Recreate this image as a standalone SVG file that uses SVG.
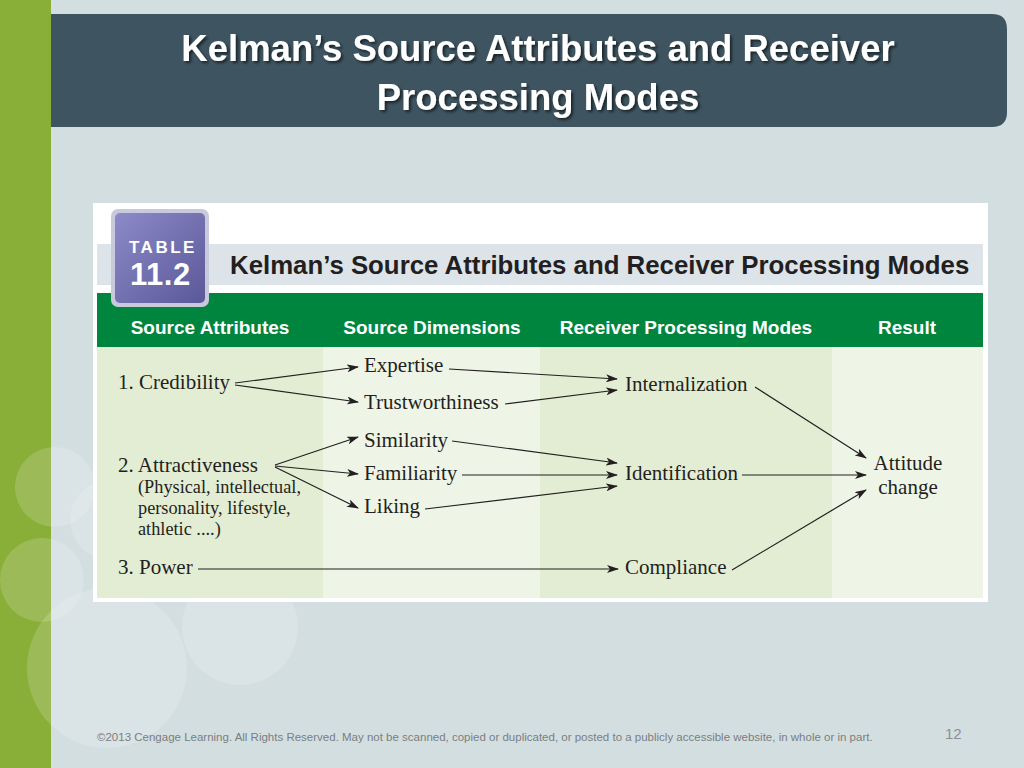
<svg xmlns="http://www.w3.org/2000/svg" width="1024" height="768" viewBox="0 0 1024 768">
<defs>
<style>
.title{font-family:"Liberation Sans",Arial,sans-serif;font-weight:bold;font-size:36.5px;fill:#ffffff;text-anchor:middle}
.hdr{font-family:"Liberation Sans",Arial,sans-serif;font-weight:bold;font-size:19px;fill:#ffffff;text-anchor:middle}
.tt{font-family:"Liberation Sans",Arial,sans-serif;font-weight:bold;font-size:25.8px;fill:#231f20}
.s{font-family:"Liberation Serif","Times New Roman",serif;font-size:21px;fill:#231f20}
.ss{font-family:"Liberation Serif","Times New Roman",serif;font-size:18.3px;fill:#231f20}
.conn line{stroke:#231f20;stroke-width:1.2;fill:none;marker-end:url(#ah)}
.foot{font-family:"Liberation Sans",Arial,sans-serif;font-size:11.5px;fill:#7a7f82}
</style>
<marker id="ah" viewBox="0 0 12 8" refX="11" refY="4" markerWidth="12" markerHeight="8" markerUnits="userSpaceOnUse" orient="auto">
<path d="M0,0 L12,4 L0,8 L3,4 z" fill="#231f20"/>
</marker>
<linearGradient id="pg" x1="0" y1="0" x2="1" y2="1">
<stop offset="0" stop-color="#8c8ac8"/>
<stop offset="1" stop-color="#5a5898"/>
</linearGradient>
<filter id="sh" x="-5%" y="-20%" width="110%" height="150%">
<feDropShadow dx="2" dy="2" stdDeviation="1.5" flood-color="#000" flood-opacity="0.6"/>
</filter>
</defs>

<!-- background -->
<rect x="0" y="0" width="1024" height="768" fill="#d3dee0"/>
<rect x="0" y="0" width="51" height="768" fill="#8aaf38"/>
<g fill="#ffffff" fill-opacity="0.16">
<circle cx="55" cy="487" r="40"/>
<circle cx="42" cy="580" r="42"/>
<circle cx="107" cy="668" r="80"/>
<circle cx="240" cy="627" r="58"/>
<circle cx="110" cy="520" r="40"/>
</g>

<!-- title bar -->
<g id="title">
<path d="M51,14 H992 Q1007,14 1007,29 V112 Q1007,127 992,127 H51 Z" fill="#3e5561"/>
<text class="title" x="538" y="61" filter="url(#sh)">Kelman’s Source Attributes and Receiver</text>
<text class="title" x="538" y="110" filter="url(#sh)">Processing Modes</text>
</g>

<!-- table frame -->
<g id="table">
<rect x="93" y="203" width="895" height="399" fill="#ffffff"/>
<rect x="97" y="244" width="886" height="41" fill="#dde4e9"/>
<rect x="97" y="293" width="886" height="54" fill="#00853f"/>
<rect x="97" y="347" width="226" height="251" fill="#e3edd3"/>
<rect x="323" y="347" width="217" height="251" fill="#eff5e6"/>
<rect x="540" y="347" width="292" height="251" fill="#e3edd3"/>
<rect x="832" y="347" width="151" height="251" fill="#eff5e6"/>
<text class="tt" x="230" y="274">Kelman’s Source Attributes and Receiver Processing Modes</text>
<text class="hdr" x="210" y="334">Source Attributes</text>
<text class="hdr" x="432" y="334">Source Dimensions</text>
<text class="hdr" x="686" y="334">Receiver Processing Modes</text>
<text class="hdr" x="907" y="334">Result</text>
</g>

<g id="badge">
<rect x="111" y="209" width="98" height="98" rx="7" fill="#c9c9dc"/>
<rect x="115" y="213" width="90" height="90" rx="5" fill="url(#pg)"/>
<text x="129" y="253" font-family="Liberation Sans,Arial,sans-serif" font-weight="bold" font-size="17" letter-spacing="2.5" fill="#ffffff">TABLE</text>
<text x="130" y="285" font-family="Liberation Sans,Arial,sans-serif" font-weight="bold" font-size="31" letter-spacing="0.5" fill="#ffffff">11.2</text>
</g>

<!-- nodes -->
<g id="credibility"><text class="s" x="118" y="389">1. Credibility</text></g>
<g id="expertise"><text class="s" x="364" y="372">Expertise</text></g>
<g id="trustworthiness"><text class="s" x="364" y="409">Trustworthiness</text></g>
<g id="internalization"><text class="s" x="625" y="391">Internalization</text></g>
<g id="attractiveness">
<text class="s" x="118" y="472">2. Attractiveness</text>
<text class="ss" x="138" y="493">(Physical, intellectual,</text>
<text class="ss" x="138" y="514">personality, lifestyle,</text>
<text class="ss" x="138" y="535">athletic ....)</text>
</g>
<g id="similarity"><text class="s" x="364" y="447">Similarity</text></g>
<g id="familiarity"><text class="s" x="364" y="480">Familiarity</text></g>
<g id="liking"><text class="s" x="364" y="513">Liking</text></g>
<g id="identification"><text class="s" x="625" y="480">Identification</text></g>
<g id="power"><text class="s" x="118" y="574">3. Power</text></g>
<g id="compliance"><text class="s" x="625" y="574">Compliance</text></g>
<g id="attitude">
<text class="s" x="908" y="470" text-anchor="middle">Attitude</text>
<text class="s" x="908" y="494" text-anchor="middle">change</text>
</g>

<!-- connectors -->
<g class="conn" id="connectors">
<line x1="235" y1="383" x2="358" y2="367"/>
<line x1="235" y1="385" x2="358" y2="402"/>
<line x1="449" y1="369" x2="617" y2="379"/>
<line x1="505" y1="404" x2="617" y2="390"/>
<line x1="275" y1="465" x2="358" y2="437"/>
<line x1="275" y1="466" x2="358" y2="474"/>
<line x1="275" y1="467" x2="358" y2="508"/>
<line x1="452" y1="441" x2="617" y2="463"/>
<line x1="462" y1="475" x2="617" y2="475"/>
<line x1="425" y1="509" x2="617" y2="486"/>
<line x1="755" y1="387" x2="866" y2="458"/>
<line x1="742" y1="475" x2="866" y2="475"/>
<line x1="732" y1="570" x2="866" y2="490"/>
<line x1="198" y1="569" x2="618" y2="569"/>
</g>

<!-- footer -->
<text class="foot" x="97" y="741">©2013 Cengage Learning. All Rights Reserved. May not be scanned, copied or duplicated, or posted to a publicly accessible website, in whole or in part.</text>
<text x="945" y="739" font-family="Liberation Sans,Arial,sans-serif" font-size="15" fill="#8a9094">12</text>
</svg>
